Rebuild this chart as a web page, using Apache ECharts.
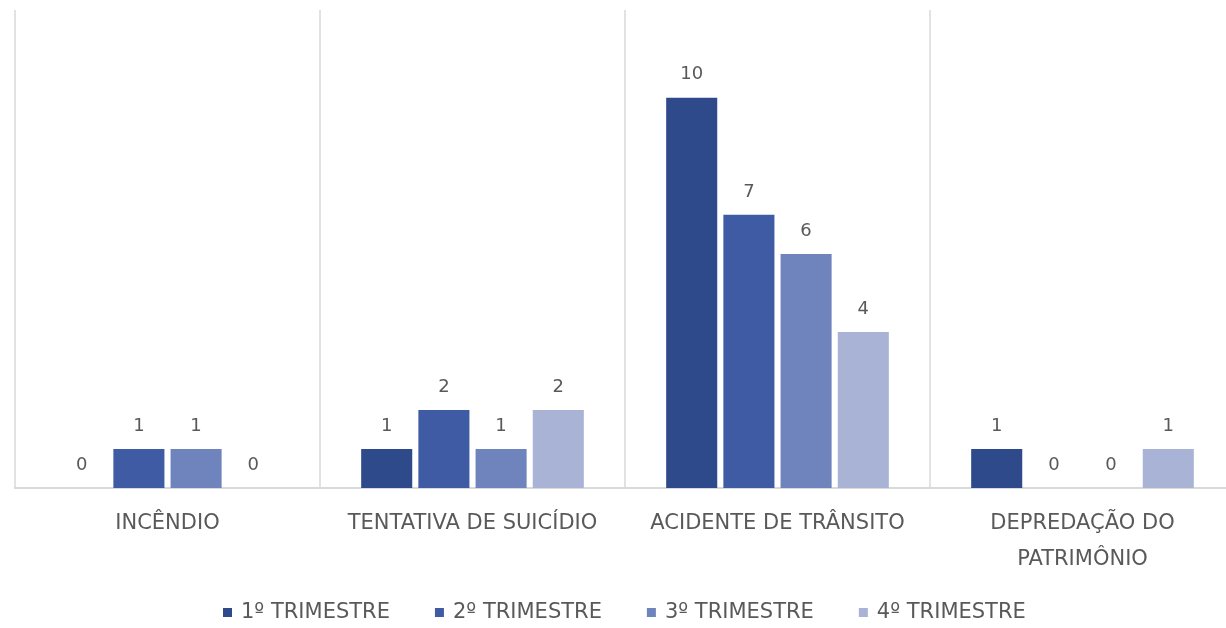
<!DOCTYPE html>
<html>
<head>
<meta charset="utf-8">
<script src="https://cdn.jsdelivr.net/npm/echarts@6/dist/echarts.min.js"></script>
<style>
  html, body { margin: 0; padding: 0; background: #ffffff; }
  #chart { width: 1226px; height: 628px; }
</style>
</head>
<body>
<div id="chart"></div>
<script>
// Ocorrências por tipo e trimestre
const categories = [
  'INCÊNDIO',
  'TENTATIVA DE SUICÍDIO',
  'ACIDENTE DE TRÂNSITO',
  'DEPREDAÇÃO DO\nPATRIMÔNIO'
];
const seriesNames = ['1º TRIMESTRE', '2º TRIMESTRE', '3º TRIMESTRE', '4º TRIMESTRE'];
const trimestre1 = [0, 1, 10, 1];
const trimestre2 = [1, 2, 7, 0];
const trimestre3 = [1, 1, 6, 0];
const trimestre4 = [0, 2, 4, 1];
const seriesValues = [trimestre1, trimestre2, trimestre3, trimestre4];
const colors = ['#2F4A8A', '#3F5BA3', '#6F84BC', '#A8B3D6'];

const textColor = '#595959';
const fontFamily = 'DejaVu Sans, Open Sans, sans-serif';

const chart = echarts.init(document.getElementById('chart'), null, { renderer: 'canvas' });

chart.setOption({
  animation: false,
  backgroundColor: '#ffffff',
  color: colors,
  grid: { left: 15, width: 1220, top: 10, bottom: 140, outerBoundsMode: 'none' },
  legend: {
    bottom: 0,
    left: 218,
    itemWidth: 9,
    itemHeight: 9,
    itemGap: 45,
    icon: 'rect',
    textStyle: { color: textColor, fontSize: 21, fontFamily: fontFamily, padding: [0, 0, 0, 4] },
    data: seriesNames
  },
  xAxis: {
    type: 'category',
    data: categories,
    axisLine: { show: true, lineStyle: { color: '#D9D9D9', width: 2 } },
    axisTick: { show: false },
    splitLine: { show: true, lineStyle: { color: '#D9D9D9', width: 1.5 } },
    axisLabel: {
      color: textColor,
      fontSize: 21,
      fontFamily: fontFamily,
      lineHeight: 36,
      margin: 18,
      interval: 0,
      align: 'center'
    }
  },
  yAxis: {
    type: 'value',
    min: 0,
    max: 12.25,
    show: false,
    splitLine: { show: false }
  },
  series: seriesNames.map((name, i) => ({
    name: name,
    type: 'bar',
    data: seriesValues[i],
    barGap: '12%',
    barCategoryGap: '27%',
    itemStyle: { color: colors[i] },
    label: {
      show: true,
      position: 'top',
      distance: 14,
      color: textColor,
      fontSize: 18,
      fontFamily: fontFamily
    }
  }))
});
</script>
</body>
</html>
